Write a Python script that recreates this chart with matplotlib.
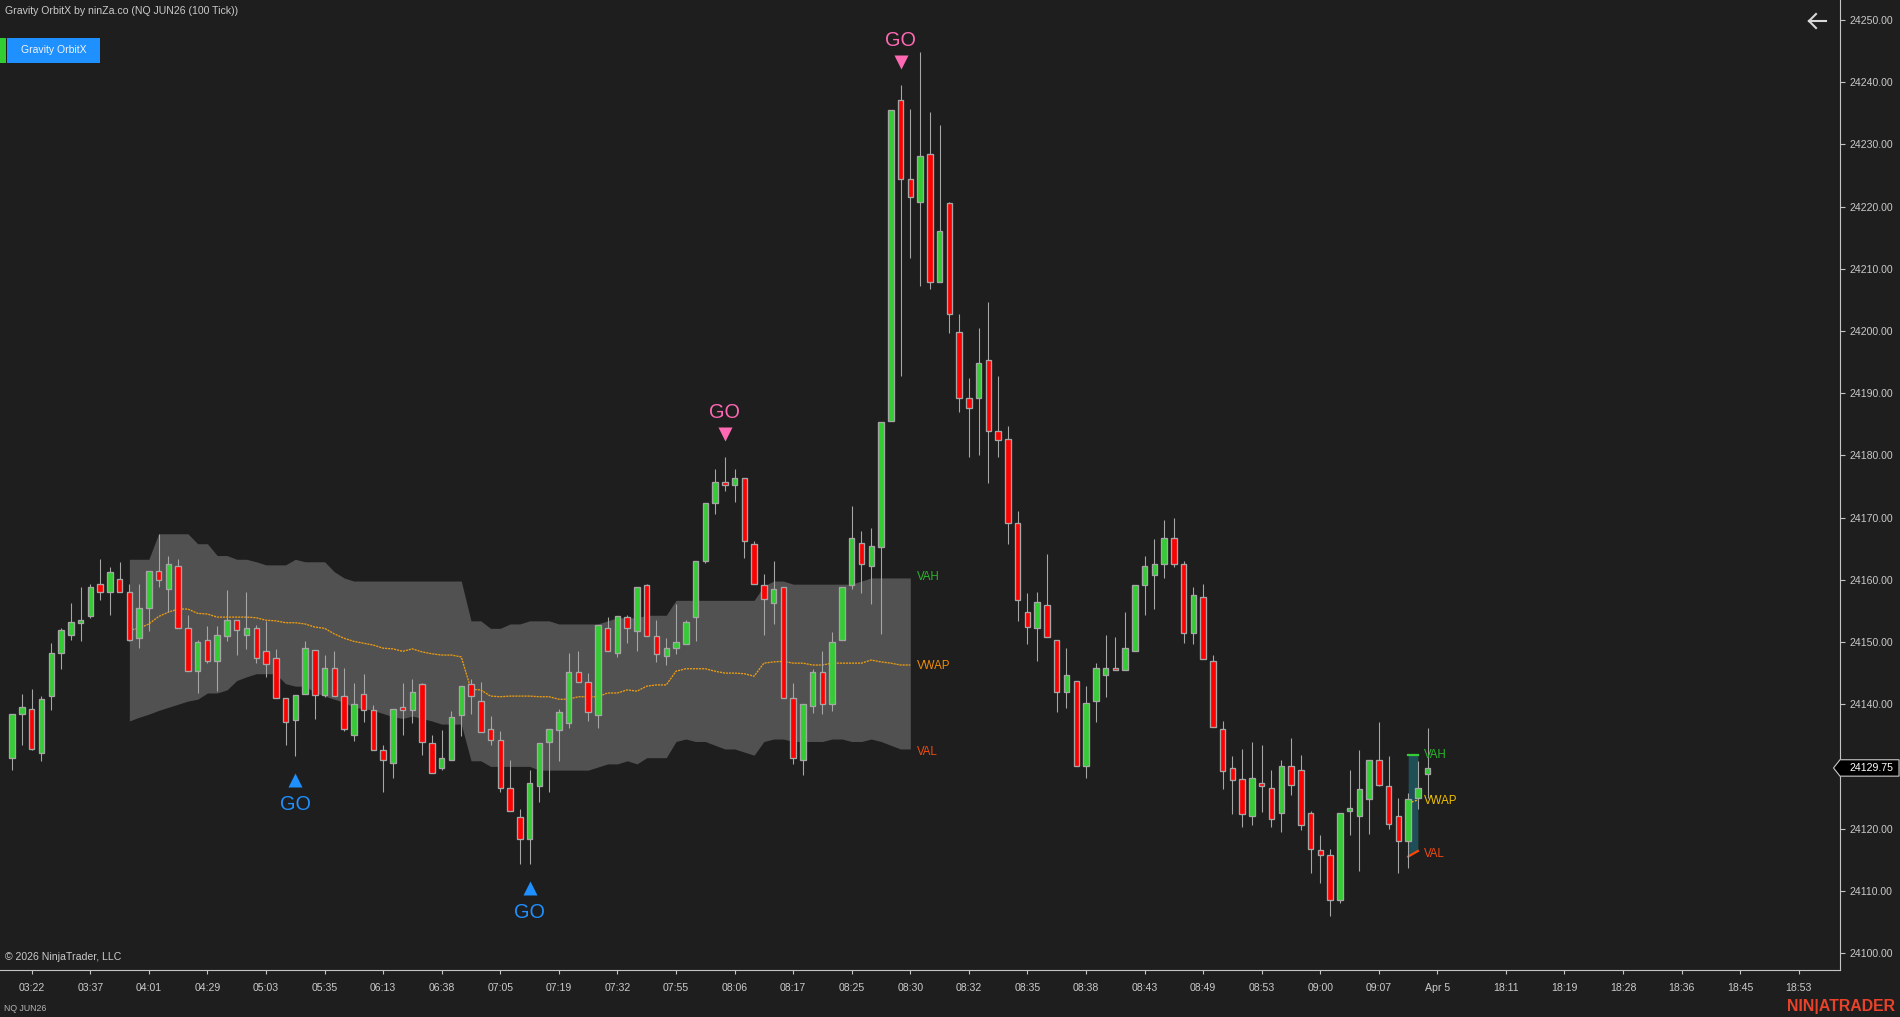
import matplotlib
matplotlib.use("Agg")
import matplotlib.pyplot as plt
import numpy as np
from matplotlib.lines import Line2D
from matplotlib.patches import Polygon, Rectangle
from matplotlib.transforms import offset_copy

# ---- data: every price is stored as points above BASE_PRICE ----
BASE_PRICE = 24100
LAST_PRICE = 24129.75
directions = ("GGRGGGGGGR" "GRRGGRGRRG" "RGGRGRRRRG" "GRGRRGRRRG" "RGRRGGGRRR"
              "RRRGGGGGRR" "GRGRGRRGGG" "GGGRGRRRGR" "RGGRGGGRGG" "GRRGRGRRRG"
              "RRRRRGRRGR" "GGGRGGGGGR" "RGRRRRRGRR" "GRRRRRGGGG" "RRRGGG")
highs = [38.5,41.6,42.5,41.3,49.8,52.2,56.3,58.9,59.3,63.3,
         62.0,62.8,59.4,59.4,61.4,67.4,63.9,63.4,54.4,50.3,
         52.6,52.6,58.4,53.5,58.0,52.8,53.3,48.8,41.0,41.4,
         50.1,48.7,47.9,48.5,45.8,43.4,44.8,39.8,33.4,39.2,
         43.4,44.0,43.4,35.0,35.8,38.9,43.0,44.0,43.6,38.1,
         35.7,31.1,23.2,29.4,33.7,36.0,39.3,48.3,48.5,45.0,
         52.7,54.0,54.1,54.4,58.9,59.3,53.5,50.6,56.1,53.5,
         63.0,72.4,77.8,79.7,77.8,76.3,66.2,61.0,63.0,58.9,
         43.4,40.0,45.7,48.5,51.6,58.9,71.9,67.8,68.4,85.3,
         135.5,139.6,135.7,144.8,135.2,133.1,120.7,102.7,92.4,100.5,
         104.6,92.7,84.7,71.0,57.9,58.0,64.2,50.4,49.0,43.7,
         43.0,46.6,51.2,50.8,54.8,59.1,63.9,66.5,69.6,70.0,
         63.0,58.9,59.4,47.9,37.3,31.6,32.8,33.9,33.4,29.4,
         31.1,34.5,31.8,22.8,18.9,16.7,22.5,29.5,32.6,31.0,
         37.1,31.6,24.9,25.8,30.8,36.1]
body_tops = [38.5,39.6,39.2,40.8,48.2,51.9,53.2,53.6,58.9,59.4,
             61.2,60.2,58.1,55.4,61.4,61.4,62.5,62.2,52.2,50.0,
             50.3,51.2,53.5,53.5,52.3,52.2,48.5,47.4,41.0,41.4,
             49.0,48.7,45.8,45.8,41.3,40.1,41.7,39.0,32.7,39.2,
             39.5,41.9,43.2,33.7,31.3,37.9,43.0,43.2,40.5,36.0,
             34.2,26.5,21.9,27.4,33.7,36.0,38.7,45.1,45.1,43.5,
             52.7,52.3,54.1,54.0,58.9,59.1,50.9,49.0,50.0,53.2,
             63.0,72.4,75.8,75.8,76.3,76.3,65.8,59.1,58.6,58.9,
             41.0,40.0,45.1,45.1,50.0,58.9,66.7,65.9,65.4,85.3,
             135.5,137.2,124.5,128.1,128.5,116.0,120.5,99.8,89.2,94.8,
             95.3,83.9,82.6,69.1,54.9,56.4,55.9,50.4,44.7,43.7,
             40.2,45.9,45.8,45.8,49.0,59.1,62.2,62.6,66.7,66.7,
             62.6,57.5,57.2,46.9,36.0,29.7,27.9,28.2,27.4,26.5,
             30.0,30.0,29.5,22.5,16.5,15.7,22.5,23.3,26.3,31.0,
             31.0,26.8,22.0,24.7,26.5,29.7]
body_bottoms = [31.4,38.5,32.8,32.2,41.3,48.2,51.2,53.0,54.1,58.0,
                58.0,58.0,50.4,50.7,55.4,59.9,58.6,52.2,45.4,45.4,
                46.9,46.9,50.9,51.9,51.2,47.4,46.4,41.0,37.2,37.4,
                41.7,41.4,41.4,41.3,36.0,35.0,39.0,32.7,31.0,30.6,
                39.0,39.0,34.0,29.0,29.7,31.0,38.2,41.3,35.5,34.2,
                26.5,22.8,18.4,18.4,26.8,34.0,35.8,36.9,43.5,38.7,
                38.2,48.5,48.2,52.3,51.7,50.9,48.0,47.7,49.1,49.6,
                54.0,63.0,72.4,75.2,75.3,66.2,59.4,56.9,56.2,41.0,
                31.4,31.0,39.7,40.0,40.1,50.3,59.1,62.6,62.2,65.2,
                85.6,124.5,121.5,120.8,107.8,107.9,102.8,89.2,87.6,89.3,
                83.9,82.4,69.1,56.7,52.4,52.2,50.8,41.9,41.9,30.0,
                30.0,40.5,44.7,45.5,45.5,48.5,59.1,60.7,62.6,62.5,
                51.4,51.4,47.2,36.3,29.2,27.8,22.3,22.0,26.8,21.5,
                22.5,27.0,20.5,16.8,15.7,8.5,8.5,22.8,22.0,24.7,
                27.0,20.7,18.0,18.0,25.0,28.7]
lows = [29.5,33.4,32.7,30.9,39.1,45.7,50.4,50.2,53.9,56.7,
        54.3,58.0,50.2,49.1,51.8,58.9,54.9,52.2,45.4,41.8,
        46.7,42.1,50.2,47.9,48.9,46.7,44.4,41.0,33.4,31.7,
        41.7,37.7,41.2,41.3,35.7,34.1,37.2,32.7,25.9,28.2,
        35.0,36.9,31.8,29.0,29.5,31.0,34.9,38.4,35.5,33.4,
        25.9,22.8,14.3,14.3,24.2,25.9,30.9,36.2,43.5,37.3,
        36.2,48.5,47.6,49.8,48.5,50.9,46.8,46.3,48.0,49.6,
        50.2,62.65,70.6,74.3,72.5,63.5,59.4,51.1,52.9,41.0,
        30.4,28.6,38.6,38.4,38.9,50.3,58.6,57.9,56.1,51.3,
        85.6,92.8,111.8,107.3,106.8,107.9,99.7,86.9,79.8,80.1,
        75.6,79.8,65.8,53.4,49.6,46.9,50.8,38.7,39.4,30.0,
        28.1,37.2,41.2,45.5,45.5,48.5,54.4,55.3,60.3,62.1,
        49.9,49.6,47.2,36.3,26.4,22.3,20.2,20.6,22.7,20.2,
        19.5,25.4,19.7,12.8,11.2,6.0,8.0,19.0,13.2,19.2,
        26.8,20.0,12.9,13.7,23.2,25.0]

# value area of the finished session, bars 12..92
va_start = 12
vah = [63.3,63.3,63.3,67.4,67.4,67.4,67.4,65.8,65.8,63.9,63.9,63.3,63.3,62.9,62.4,62.4,62.4,63.3,62.9,62.9,
       62.9,61.3,60.3,59.8,59.8,59.8,59.8,59.8,59.8,59.8,59.8,59.8,59.8,59.8,59.8,53.4,53.4,52.2,52.2,52.9,
       52.9,53.4,53.4,53.4,52.9,52.9,52.9,52.9,52.9,53.4,53.9,53.9,53.9,54.3,54.3,54.3,56.7,56.7,56.7,56.7,
       56.7,56.7,56.7,56.7,56.7,59.0,59.8,59.8,59.3,59.3,59.3,59.3,59.3,59.3,59.3,59.8,60.3,60.3,60.3,60.3,60.3]
val = [37.3,37.9,38.4,39.0,39.5,40.0,40.5,40.8,41.8,41.8,42.3,43.8,44.4,44.9,44.9,44.9,43.3,42.9,42.9,41.9,
       41.3,40.8,40.3,39.5,39.3,39.0,38.5,38.0,37.7,38.1,37.7,37.3,36.8,36.8,36.8,30.9,30.9,30.0,30.0,30.0,
       30.0,30.0,29.4,29.4,29.4,29.4,29.4,29.4,29.9,30.4,30.4,30.9,30.4,31.4,31.4,31.4,34.0,34.4,34.0,34.0,
       33.4,32.8,32.8,32.3,31.8,34.0,34.4,34.4,34.0,34.0,34.0,34.0,34.4,34.4,34.0,34.0,34.4,34.0,33.4,32.8,32.8]
vwap = [51.9,52.2,52.9,54.1,54.8,55.3,55.3,54.6,54.5,54.0,54.0,54.0,54.0,53.9,53.5,53.4,53.1,53.1,52.9,52.4,
        52.2,51.3,50.6,50.1,49.8,49.5,49.0,48.9,48.5,48.9,48.4,48.1,47.9,47.9,47.6,42.4,42.3,41.3,41.2,41.3,
        41.3,41.3,41.2,41.2,40.8,40.8,41.2,41.2,41.2,41.8,41.8,42.3,42.1,42.9,43.1,43.1,45.3,45.7,45.7,45.7,
        45.3,45.0,45.0,44.9,44.5,46.6,46.8,46.9,46.6,46.6,46.3,46.3,46.6,46.6,46.6,46.6,47.1,46.8,46.6,46.3,46.3]

# value area of the developing session, bars 143..144
cur_bars = [143, 144]
cur_vah = [31.8, 31.8]
cur_val = [15.5, 16.4]
cur_vwap = [24.1, 24.6]

go_up_bars = [29, 53]
go_down_bars = [73, 91]

tick_bars = [2,8,14,20,26,32,38,44,50,56,62,68,74,80,86,92,98,104,110,116,122,128,134,140,146,
             153,159,165,171,177,183]
tick_labels = ["03:22","03:37","04:01","04:29","05:03","05:35","06:13","06:38","07:05","07:19",
               "07:32","07:55","08:06","08:17","08:25","08:30","08:32","08:35","08:38","08:43",
               "08:49","08:53","09:00","09:07","Apr 5","18:11","18:19","18:28","18:36","18:45","18:53"]
price_ticks = list(range(24100, 24251, 10))

# ---- style ----
W, H = 1900, 1017
AX_R, AX_B = 1840, 970
BG = "#1E1E1E"
GREEN = "#32CD32"
RED = "#FF0000"
WICK = "#A6A6A6"
AXIS = "#C4C4C4"
TEXT = "#CACACA"
FONT = ["Liberation Sans", "DejaVu Sans"]
plt.rcParams["font.family"] = FONT

fig = plt.figure(figsize=(W / 100, H / 100), dpi=100, facecolor=BG)
ax = fig.add_axes([0, (H - AX_B) / H, AX_R / W, AX_B / H], facecolor=BG)
PX0, PXSTEP = 12.2, 9.762
ax.set_xlim(-PX0 / PXSTEP, (AX_R - PX0) / PXSTEP)
SCALE = 6.22
ax.set_ylim(BASE_PRICE + (953 - AX_B) / SCALE, BASE_PRICE + 953 / SCALE)


def P(values):
    return BASE_PRICE + np.asarray(values, dtype=float)


n = len(highs)
bars = np.arange(n)
colors = [GREEN if d == "G" else RED for d in directions]

# value area bands
va_bars = np.arange(va_start, va_start + len(vah))
ax.fill_between(va_bars, P(val), P(vah), color="#515151", lw=0, zorder=1)
ax.plot(va_bars, P(vwap), color="#EA9C12", lw=0.95, ls=(0, (1.6, 0.7)), zorder=2)
ax.fill_between(cur_bars, P(cur_val), P(cur_vah), color="#1F4E56", lw=0, zorder=1)
ax.plot(cur_bars, P(cur_vah), color=GREEN, lw=1.6, zorder=2)
ax.plot(cur_bars, P(cur_val), color="#FF4500", lw=1.6, zorder=2)
ax.plot(cur_bars, P(cur_vwap), color="#FFC000", lw=0.9, ls=(0, (1.6, 1.2)), zorder=2)

# candles
ax.vlines(bars, P(lows), P(highs), color=WICK, lw=0.78, zorder=3)
ax.bar(bars, P(body_tops) - P(body_bottoms), bottom=P(body_bottoms), width=0.56,
       color=colors, edgecolor=WICK, linewidth=0.95, zorder=4)

# session labels, placed at the value they name
for x, v, label, c in [(92.7, 60.4, "VAH", "#2CB52C"), (92.7, 46.1, "VWAP", "#F08C08"), (92.7, 32.3, "VAL", "#F24A12"),
                       (144.6, 31.9, "VAH", "#2CB52C"), (144.6, 24.4, "VWAP", "#F0C000"), (144.6, 15.9, "VAL", "#F24A12")]:
    ax.text(x, BASE_PRICE + v, label, color=c, fontsize=8.3, va="center", ha="left", zorder=5)

# GO signals
for offset_tri, offset_txt, marker, col, idx, src in [
    (-24, -48.7, "^", "#1E90FF", go_up_bars, lows),
    (23, 44.6, "v", "#FF69B4", go_down_bars, highs),
]:
    for b in idx:
        tr = offset_copy(ax.transData, fig=fig, x=0, y=offset_tri, units="dots")
        ax.plot([b], [BASE_PRICE + src[b]], marker=marker, ms=10.2, mec="none", color=col, transform=tr, zorder=6)
        ax.annotate("GO", xy=(b, BASE_PRICE + src[b]), xytext=(0, offset_txt), textcoords="offset pixels",
                    color=col, fontsize=14.3, ha="center", va="center", zorder=6)

# axes
for s in ("top", "left"):
    ax.spines[s].set_visible(False)
for s in ("right", "bottom"):
    ax.spines[s].set_color(AXIS)
    ax.spines[s].set_linewidth(0.8)
ax.yaxis.tick_right()
ax.set_yticks(price_ticks)
ax.set_yticklabels([f"{p:.2f}" for p in price_ticks])
ax.set_xticks(tick_bars)
ax.set_xticklabels(tick_labels)
ax.tick_params(axis="y", colors=TEXT, labelsize=7.6, length=3.6, width=0.8, color=AXIS, pad=3.2)
ax.tick_params(axis="x", colors=TEXT, labelsize=7.6, length=3.2, width=0.8, color=AXIS, pad=6.5)


def ftext(x, y, s, **kw):
    kw.setdefault("color", TEXT)
    kw.setdefault("fontsize", 7.6)
    kw.setdefault("va", "center")
    kw.setdefault("ha", "left")
    return fig.text(x / W, 1 - y / H, s, **kw)


def frect(x0, y0, x1, y1, color):
    fig.add_artist(Rectangle((x0 / W, 1 - y1 / H), (x1 - x0) / W, (y1 - y0) / H, transform=fig.transFigure,
                             facecolor=color, edgecolor="none", zorder=10))


ftext(5, 10.5, "Gravity OrbitX by ninZa.co (NQ JUN26 (100 Tick))")
frect(0, 38, 6, 63, GREEN)
frect(7, 38, 100, 63, "#1E90FF")
ftext(54, 50.5, "Gravity OrbitX", color="#F2F2F2", ha="center", zorder=11, fontsize=7.5)
ftext(5, 957, "\u00a9 2026 NinjaTrader, LLC")
ftext(4, 1008.5, "NQ JUN26", fontsize=6.3, color="#B4B4B4")
ftext(1787, 1007, "NIN|ATRADER", color="#E8432A", fontsize=11.4, fontweight="bold")

# back arrow
for xs, ys in [((1809, 1826), (21, 21)), ((1809, 1816), (21, 14)), ((1809, 1816), (21, 28))]:
    fig.add_artist(Line2D([x / W for x in xs], [1 - y / H for y in ys], color="#D8D8D8", lw=1.5,
                          transform=fig.transFigure, zorder=11))

# last-price tag, placed from the price scale
py = ax.transData.transform((0, LAST_PRICE))[1]
tag = [(1833.5, py), (1840, py + 8.2), (1899, py + 8.2), (1899, py - 8.2), (1840, py - 8.2)]
fig.add_artist(Polygon([(x / W, y / H) for x, y in tag], closed=True, transform=fig.transFigure,
                       facecolor="#000000", edgecolor="#C8C8C8", lw=0.8, zorder=11))
fig.text(1849 / W, py / H, f"{LAST_PRICE:.2f}", color="#FFFFFF", fontsize=7.6, va="center", ha="left", zorder=12)

fig.savefig("out.png", dpi=100, facecolor=BG)
